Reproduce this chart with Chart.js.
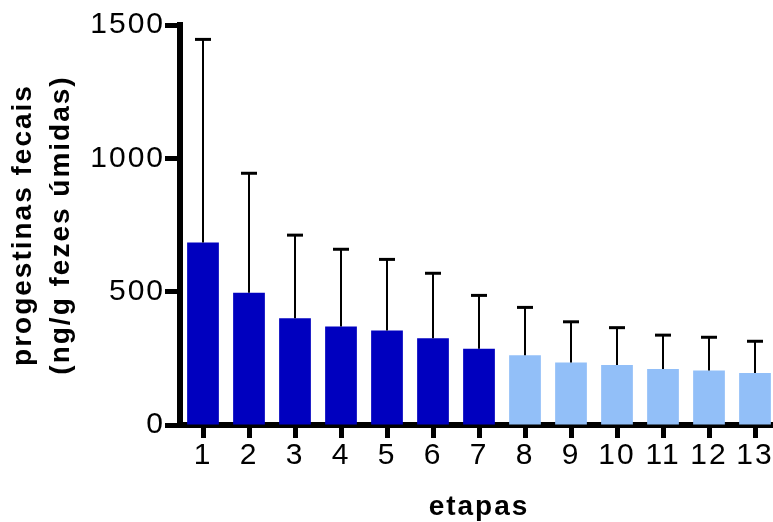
<!DOCTYPE html>
<html>
<head>
<meta charset="utf-8">
<script src="https://cdn.jsdelivr.net/npm/chart.js@4.4.1/dist/chart.umd.min.js"></script>
<style>
  html, body { margin: 0; padding: 0; background: #fff; overflow: hidden; }
  #wrap { width: 790px; height: 522px; }
</style>
</head>
<body>
<div id="wrap"><canvas id="chart"></canvas></div>
<script>
// dados
const etapas = ['1', '2', '3', '4', '5', '6', '7', '8', '9', '10', '11', '12', '13'];
const medias = [684, 496, 400, 369, 354, 325, 286, 262, 234, 225, 210, 204, 195];
const desvios = [762, 448, 312, 290, 267, 244, 200, 179, 153, 140, 127, 125, 119];
const yTicks = [0, 500, 1000, 1500];

const AZUL_ESCURO = '#0000BF';
const AZUL_CLARO = '#92BFF8';

// espaçamento entre letras (canvas)
const spacingPlugin = {
    id: 'spacing',
    beforeUpdate(chart) { chart.ctx.letterSpacing = '2px'; },
    beforeDraw(chart) { chart.ctx.letterSpacing = '2px'; }
};

// barras de erro (só para cima)
const errorBars = {
    id: 'errorBars',
    afterDatasetsDraw(chart) {
        const ctx = chart.ctx;
        const x = chart.scales.x;
        const y = chart.scales.y;
        ctx.save();
        ctx.strokeStyle = '#000';
        medias.forEach((m, i) => {
            const px = x.getPixelForValue(i);
            const yBar = y.getPixelForValue(m);
            const yTop = y.getPixelForValue(m + desvios[i]);
            ctx.lineWidth = 2;
            ctx.beginPath();
            ctx.moveTo(px, yBar);
            ctx.lineTo(px, yTop);
            ctx.stroke();
            ctx.lineWidth = 3;
            ctx.beginPath();
            ctx.moveTo(px - 8, yTop);
            ctx.lineTo(px + 8, yTop);
            ctx.stroke();
        });
        ctx.restore();
    }
};

Chart.defaults.font.family = "'Liberation Sans', Arial, sans-serif";
Chart.defaults.color = '#000';

const ctx = document.getElementById('chart').getContext('2d');
new Chart(ctx, {
    type: 'bar',
    data: {
        labels: etapas,
        datasets: [{
            data: medias,
            backgroundColor: c => c.dataIndex < 7 ? AZUL_ESCURO : AZUL_CLARO,
            borderWidth: 0,
            categoryPercentage: 1,
            barPercentage: 0.69
        }]
    },
    options: {
        responsive: true,
        maintainAspectRatio: false,
        animation: false,
        layout: { padding: { top: 25, right: 12, left: 0, bottom: 0 } },
        plugins: { legend: { display: false }, tooltip: { enabled: false } },
        scales: {
            x: {
                z: 1,
                offset: true,
                grid: { display: true, drawOnChartArea: false, tickLength: 13, tickWidth: 5, tickColor: '#000', offset: false },
                border: { display: true, color: '#000', width: 6 },
                ticks: { font: { size: 30 }, padding: 0, maxRotation: 0, autoSkip: false },
                title: {
                    display: true,
                    text: 'etapas',
                    font: { size: 28, weight: 'bold', lineHeight: 1.0 },
                    padding: { top: 0, bottom: 1 }
                },
                afterFit: s => { s.height = 97; }
            },
            y: {
                z: 1,
                min: 0,
                max: 1500,
                afterBuildTicks: s => { s.ticks = yTicks.map(v => ({ value: v })); },
                grid: { display: true, drawOnChartArea: false, tickLength: 15, tickWidth: 5, tickColor: '#000' },
                border: { display: true, color: '#000', width: 6 },
                ticks: { font: { size: 30 }, padding: 0, callback: v => String(v) },
                title: {
                    display: true,
                    text: ['progestinas fecais', '(ng/g fezes úmidas)'],
                    font: { size: 28, weight: 'bold', lineHeight: 1.357 },
                    padding: { top: 4, bottom: 0 }
                },
                afterFit: s => { s.width = 180; }
            }
        }
    },
    plugins: [spacingPlugin, errorBars]
});
</script>
</body>
</html>
